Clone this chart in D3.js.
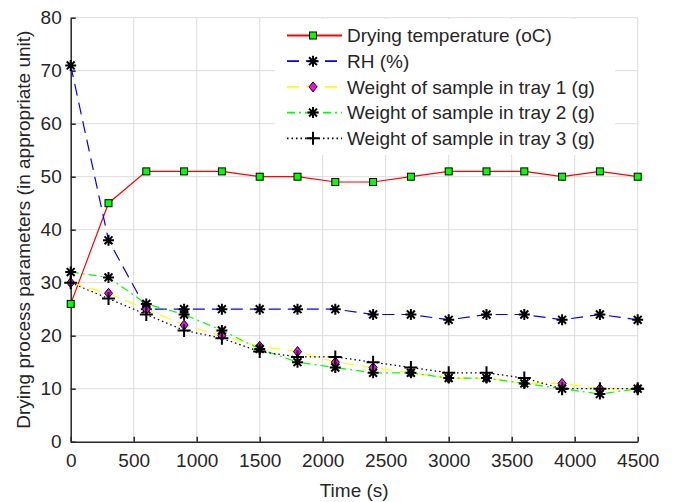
<!DOCTYPE html>
<html>
<head>
<meta charset="utf-8">
<script src="https://cdn.jsdelivr.net/npm/d3@7"></script>
<style>
  body { margin: 0; background: #fff; }
  svg text { font-family: 'Liberation Sans', Arial, sans-serif; fill: #262626; }
</style>
</head>
<body>
<div id="chart"></div>
<script>
const times = [0, 300, 600, 900, 1200, 1500, 1800, 2100, 2400, 2700, 3000, 3300, 3600, 3900, 4200, 4500]
const temperature = [26, 45, 51, 51, 51, 50, 50, 49, 49, 50, 51, 51, 51, 50, 51, 50]
const rh = [71, 38, 25, 25, 25, 25, 25, 25, 24, 24, 23, 24, 24, 23, 24, 23]
const tray1 = [30, 28, 25, 22, 20, 18, 17, 15, 14, 13, 12, 12, 11, 11, 10, 10]
const tray2 = [32, 31, 26, 24, 21, 17.5, 15, 14, 13, 13, 12, 12, 11, 10, 9, 10]
const tray3 = [30, 27, 24, 21, 19.5, 17, 16, 16, 15, 14, 13, 13, 12, 10, 10, 10]
const xTicks = [0, 500, 1000, 1500, 2000, 2500, 3000, 3500, 4000, 4500]
const yTicks = [0, 10, 20, 30, 40, 50, 60, 70, 80]
const seriesNames = [
  'Drying temperature (oC)',
  'RH (%)',
  'Weight of sample in tray 1 (g)',
  'Weight of sample in tray 2 (g)',
  'Weight of sample in tray 3 (g)'
]

const w = 675
const h = 502
const padLeft = 70.7
const padRight = 637.7
const padTop = 17.7
const padBottom = 441.7
const fontSize = 19

const series = [
  { name: seriesNames[0], values: temperature, color: '#ff0000', dash: null, marker: 'square' },
  { name: seriesNames[1], values: rh, color: '#0000ff', dash: '12,7', marker: 'star' },
  { name: seriesNames[2], values: tray1, color: '#ffff00', dash: '12,7', marker: 'diamond' },
  { name: seriesNames[3], values: tray2, color: '#00ff00', dash: '8,4,2,4', marker: 'star' },
  { name: seriesNames[4], values: tray3, color: '#000000', dash: '1.5,3', marker: 'plus' }
]

const xScale = d3.scaleLinear().domain([0, 4500]).range([padLeft, padRight])
const yScale = d3.scaleLinear().domain([0, 80]).range([padBottom, padTop])

const svg = d3.select('#chart').append('svg').attr('width', w).attr('height', h)

// grid
svg.append('g')
  .selectAll('line')
  .data(xTicks.slice(1))
  .join('line')
  .attr('x1', (d) => xScale(d)).attr('x2', (d) => xScale(d))
  .attr('y1', padTop).attr('y2', padBottom)
  .attr('stroke', '#dcdcdc').attr('stroke-width', 1)
svg.append('g')
  .selectAll('line')
  .data(yTicks.slice(1))
  .join('line')
  .attr('x1', padLeft).attr('x2', padRight)
  .attr('y1', (d) => yScale(d)).attr('y2', (d) => yScale(d))
  .attr('stroke', '#dcdcdc').attr('stroke-width', 1)

// axes
const xAxis = d3.axisBottom(xScale).tickValues(xTicks).tickFormat(d3.format('d'))
  .tickSizeInner(-5).tickSizeOuter(0).tickPadding(12)
const yAxis = d3.axisLeft(yScale).tickValues(yTicks).tickFormat(d3.format('d'))
  .tickSizeInner(-5).tickSizeOuter(0).tickPadding(9)

const gx = svg.append('g').attr('transform', 'translate(0,' + padBottom + ')').call(xAxis)
const gy = svg.append('g').attr('transform', 'translate(' + padLeft + ',0)').call(yAxis)
;[gx, gy].forEach((g) => {
  g.select('.domain').attr('stroke', '#262626').attr('stroke-width', 1.5)
  g.selectAll('.tick line').attr('stroke', '#262626').attr('stroke-width', 1.5)
  g.selectAll('.tick text').style('font-size', fontSize + 'px').attr('fill', '#262626')
})

// axis labels
svg.append('text')
  .text('Time (s)')
  .attr('x', (padLeft + padRight) / 2)
  .attr('y', 497)
  .attr('text-anchor', 'middle')
  .style('font-size', fontSize + 'px')
svg.append('text')
  .text('Drying process parameters (in appropriate unit)')
  .attr('transform', 'translate(30,' + (padTop + padBottom) / 2 + ') rotate(-90)')
  .attr('text-anchor', 'middle')
  .style('font-size', fontSize + 'px')

// markers
const starPath = (r) => {
  const a = r * 0.72
  return 'M' + -r + ',0L' + r + ',0M0,' + -r + 'L0,' + r +
    'M' + -a + ',' + -a + 'L' + a + ',' + a + 'M' + -a + ',' + a + 'L' + a + ',' + -a
}
const plusPath = (r) => 'M' + -r + ',0L' + r + ',0M0,' + -r + 'L0,' + r

function drawMarker(g, type, x, y) {
  if (type === 'square') {
    g.append('rect')
      .attr('x', x - 3.5).attr('y', y - 3.5)
      .attr('width', 7).attr('height', 7)
      .attr('fill', '#00ff00').attr('stroke', '#000').attr('stroke-width', 1)
  } else if (type === 'diamond') {
    g.append('path')
      .attr('d', 'M' + x + ',' + (y - 5) + 'L' + (x + 4) + ',' + y + 'L' + x + ',' + (y + 5) + 'L' + (x - 4) + ',' + y + 'Z')
      .attr('fill', '#ff00ff').attr('stroke', '#000').attr('stroke-width', 1)
  } else if (type === 'star') {
    g.append('path')
      .attr('transform', 'translate(' + x + ',' + y + ')')
      .attr('d', starPath(5.5))
      .attr('stroke', '#000').attr('stroke-width', 2).attr('fill', 'none')
  } else if (type === 'plus') {
    g.append('path')
      .attr('transform', 'translate(' + x + ',' + y + ')')
      .attr('d', plusPath(6.5))
      .attr('stroke', '#000').attr('stroke-width', 2).attr('fill', 'none')
  }
}

const line = d3.line()
  .x((d) => xScale(d[0]))
  .y((d) => yScale(d[1]))

series.forEach((s) => {
  const g = svg.append('g')
  const pts = times.map((t, i) => [t, s.values[i]])
  g.append('path')
    .datum(pts)
    .attr('d', line)
    .attr('fill', 'none')
    .attr('stroke', s.color)
    .attr('stroke-width', 1.2)
    .attr('stroke-dasharray', s.dash)
  pts.forEach((p) => drawMarker(g, s.marker, xScale(p[0]), yScale(p[1])))
})

// legend
const legend = svg.append('g')
legend.append('rect')
  .attr('x', 275).attr('y', 19)
  .attr('width', 340).attr('height', 136)
  .attr('fill', '#fff')
series.forEach((s, i) => {
  const y = 35.5 + i * 25.7
  legend.append('line')
    .attr('x1', 287).attr('x2', 342)
    .attr('y1', y).attr('y2', y)
    .attr('stroke', s.color)
    .attr('stroke-width', 1.8)
    .attr('stroke-dasharray', s.dash)
  drawMarker(legend, s.marker, 313, y)
  legend.append('text')
    .text(s.name)
    .attr('x', 347)
    .attr('y', y + 6.8)
    .style('font-size', fontSize + 'px')
})
</script>
</body>
</html>
